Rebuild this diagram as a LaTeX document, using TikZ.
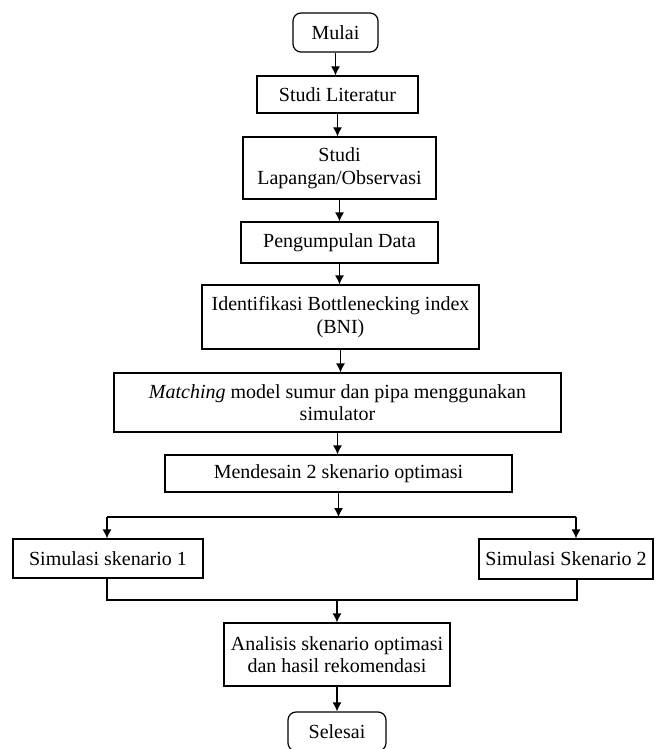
\documentclass[tikz,border=0pt]{standalone}
\usepackage{fontspec}
\setmainfont{Liberation Serif}
\usetikzlibrary{arrows.meta}
\begin{document}
\begin{tikzpicture}[x=1pt,y=-1pt,
  box/.style={draw, line width=1.2pt, inner sep=0pt, align=center, font=\fontsize{20}{22.5}\selectfont},
  term/.style={box, rounded corners=8pt},
  arr/.style={line width=1.2pt, -{Latex[length=9pt,width=9pt]}},
  ln/.style={line width=1.2pt}]
\useasboundingbox (0,0) rectangle (659,749);
\node[term, minimum width=85pt, minimum height=39pt] (mulai) at (335.5,32.5) {Mulai};
\node[box, minimum width=161pt, minimum height=37pt] (lit) at (337.5,94.5) {Studi Literatur};
\node[box, minimum width=193pt, minimum height=62pt] (lap) at (339.5,168) {Studi\\Lapangan/Observasi};
\node[box, minimum width=197pt, minimum height=41pt] (data) at (339.5,242.5) {Pengumpulan Data};
\node[box, minimum width=277pt, minimum height=64pt] (bni) at (340.5,317) {Identifikasi Bottlenecking index\\(BNI)};
\node[box, minimum width=447pt, minimum height=59pt] (match) at (337.5,402.5) {\textit{Matching} model sumur dan pipa menggunakan\\simulator};
\node[box, minimum width=347pt, minimum height=37pt] (desain) at (338.5,473.5) {Mendesain 2 skenario optimasi};
\node[box, minimum width=190pt, minimum height=39pt] (sim1) at (108,558.5) {Simulasi skenario 1};
\node[box, minimum width=174pt, minimum height=40pt] (sim2) at (566,559) {Simulasi Skenario 2};
\node[box, minimum width=226pt, minimum height=63pt] (anal) at (337,654.5) {Analisis skenario optimasi\\dan hasil rekomendasi};
\node[term, minimum width=98pt, minimum height=39pt] (selesai) at (337,731.5) {Selesai};

\draw[arr] (mulai.south) -- (mulai.south |- lit.north);
\draw[arr] (lit.south) -- (lit.south |- lap.north);
\draw[arr] (lap.south) -- (lap.south |- data.north);
\draw[arr] (data.south) -- (data.south |- bni.north);
\draw[arr] (bni.south) -- (bni.south |- match.north);
\draw[arr] (match.south) -- (match.south |- desain.north);

\coordinate (sL) at (107,517);
\coordinate (sR) at (576,517);
\draw[arr] (desain.south) -- (desain.south |- sL);
\draw[ln] (sL) -- (sR);
\draw[arr] (sL) -- (sL |- sim1.north);
\draw[arr] (sR) -- (sR |- sim2.north);

\coordinate (jL) at (107,600);
\coordinate (jR) at (577,600);
\draw[ln] (jL |- sim1.south) -- (jL) -- (jR) -- (jR |- sim2.south);
\draw[arr] (anal.north |- jL) -- (anal.north);
\draw[arr] (anal.south) -- (anal.south |- selesai.north);
\end{tikzpicture}
\end{document}
